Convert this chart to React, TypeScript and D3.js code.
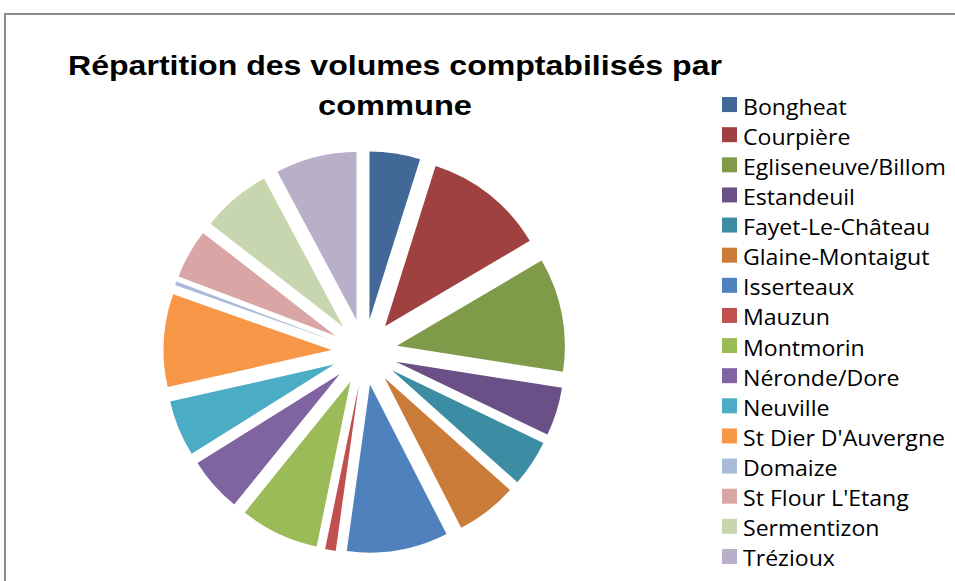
import React from "react";
import * as d3 from "d3";

const categories = [
  "Bongheat",
  "Courpière",
  "Egliseneuve/Billom",
  "Estandeuil",
  "Fayet-Le-Château",
  "Glaine-Montaigut",
  "Isserteaux",
  "Mauzun",
  "Montmorin",
  "Néronde/Dore",
  "Neuville",
  "St Dier D'Auvergne",
  "Domaize",
  "St Flour L'Etang",
  "Sermentizon",
  "Trézioux",
];

const values = [4.8, 11.5, 10.8, 4.6, 4.4, 5.8, 9.6, 1.0, 7.5, 5.2, 5.3, 8.8, 0.35, 4.7, 6.6, 7.7];

const colors = [
  "#416897",
  "#9E4140",
  "#7F9A48",
  "#6A5086",
  "#3C8DA3",
  "#CB7B38",
  "#4F81BD",
  "#C0504D",
  "#9BBB59",
  "#8064A2",
  "#4BACC6",
  "#F79646",
  "#AABBD9",
  "#D9A6A5",
  "#C7D6AE",
  "#BAAFC9",
];

const titleLines = ["Répartition des volumes comptabilisés par", "commune"];

const W = 955;
const H = 581;
const cx = 364.5;
const cy = 352;
const R = 168;
const explode = 33;

export default function App() {
  const pie = d3.pie<number>().sort(null).value((d) => d)(values);
  const arc = d3.arc<d3.PieArcDatum<number>>().innerRadius(0).outerRadius(R);
  const legendY = d3.scaleBand<string>().domain(categories).range([90, 572]).paddingInner(0);

  return (
    <div style={{ position: "fixed", left: 0, top: 0 }}>
      <svg width={W} height={H} style={{ display: "block", background: "#fff" }}>
        <rect x={5} y={14} width={990} height={620} fill="#fff" stroke="#8a8a8a" strokeWidth={2} />
        <g fontFamily="'Liberation Sans', Arial, sans-serif" fontWeight="bold" fontSize={28} fill="#000" textAnchor="middle">
          <text x={395} y={75} textLength={654} lengthAdjust="spacingAndGlyphs">{titleLines[0]}</text>
          <text x={395} y={115} textLength={154} lengthAdjust="spacingAndGlyphs">{titleLines[1]}</text>
        </g>
        <g transform={`translate(${cx},${cy})`}>
          {pie.map((p, i) => {
            const mid = (p.startAngle + p.endAngle) / 2;
            const dx = explode * Math.sin(mid);
            const dy = -explode * Math.cos(mid);
            return (
              <path key={categories[i]} d={arc(p) || ""} fill={colors[i]} transform={`translate(${dx},${dy})`} />
            );
          })}
        </g>
        <g fontFamily="'Open Sans', 'Liberation Sans', sans-serif" fontSize={21} fill="#000">
          {categories.map((c, i) => {
            const y = (legendY(c) || 0) + legendY.bandwidth() / 2;
            return (
              <g key={c}>
                <rect x={722} y={y - 8} width={15} height={15} fill={colors[i]} />
                <text transform={`translate(743,${y + 1}) scale(1.1,1)`} dominantBaseline="central">{c}</text>
              </g>
            );
          })}
        </g>
      </svg>
    </div>
  );
}
